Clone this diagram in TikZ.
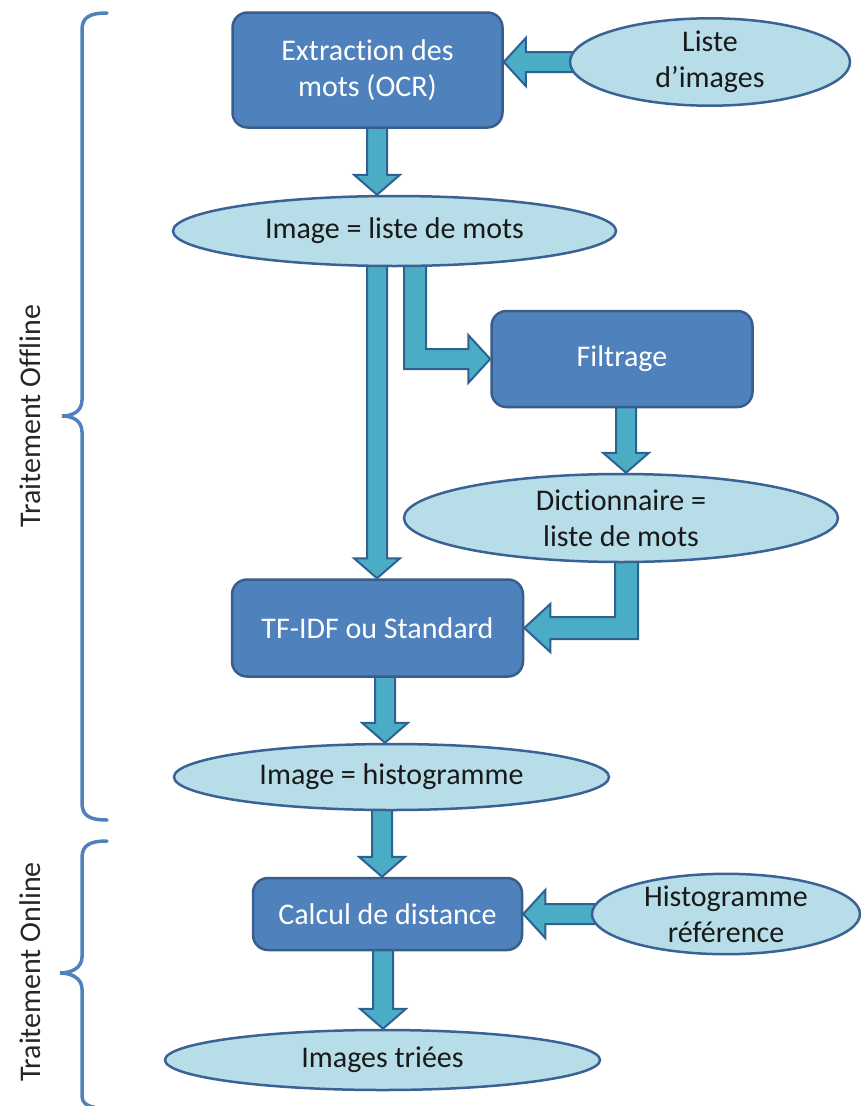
\documentclass[tikz,border=0pt]{standalone}
\usepackage{fontspec}
\setmainfont{Carlito}[Ligatures=NoCommon]
\usepackage{tikz}
\usetikzlibrary{shapes.geometric,calc,backgrounds}
\definecolor{boxfill}{HTML}{4F81BD}
\definecolor{boxline}{HTML}{385D8A}
\definecolor{ovalfill}{HTML}{B7DDE8}
\definecolor{ovalline}{HTML}{3A6295}
\definecolor{arrowfill}{HTML}{4BACC6}
\definecolor{arrowline}{HTML}{2E6190}
\definecolor{bracecol}{HTML}{4F81BD}

% block arrow pointing down: #1 = x of the shaft, #2 = where it starts, #3 = tip
\newcommand{\downblock}[3]{%
  \draw[blockarrow] let \p1=(#2), \p2=(#3) in
    (#1pt-10pt,\y1) -- (#1pt-10pt,\y2+20pt) -- (#1pt-23pt,\y2+20pt) -- (#1pt,\y2)
    -- (#1pt+23pt,\y2+20pt) -- (#1pt+10pt,\y2+20pt) -- (#1pt+10pt,\y1) -- cycle;}
% block arrow pointing left: #1 = y of the shaft, #2 = where it starts, #3 = tip
\newcommand{\leftblock}[3]{%
  \draw[blockarrow] let \p1=(#2), \p2=(#3) in
    (\x1,-#1pt+10pt) -- (\x2+22pt,-#1pt+10pt) -- (\x2+22pt,-#1pt+24pt) -- (\x2,-#1pt)
    -- (\x2+22pt,-#1pt-24pt) -- (\x2+22pt,-#1pt-10pt) -- (\x1,-#1pt-10pt) -- cycle;}

\begin{document}
\begin{tikzpicture}[
  x=1pt, y=-1pt,
  procbox/.style={draw=boxline, fill=boxfill, line width=2.5pt, rounded corners=15pt,
                  text=white, align=center, inner sep=0pt,
                  font=\fontsize{30}{36}\selectfont},
  oval/.style={ellipse, draw=ovalline, fill=ovalfill, line width=2.5pt, inner sep=0pt,
               align=center, text=black!90, font=\fontsize{30}{36}\selectfont},
  blockarrow/.style={draw=arrowline, fill=arrowfill, line width=2pt, line join=miter},
  brc/.style={draw=bracecol, line width=3.5pt, line cap=round},
  sidelabel/.style={rotate=90, text=black!85, font=\fontsize{30}{36}\selectfont},
]
\useasboundingbox (0,0) rectangle (861,1106);

% --- offline part
\node[procbox, minimum width=270, minimum height=115] (ocr) at (367.5,70) {Extraction des\\mots (OCR)};
\node[oval, minimum width=280, minimum height=78] (listimg) at (710,62) {Liste\\d’images};
\node[oval, minimum width=443, minimum height=70] (imgwords) at (394.5,231) {Image = liste de mots};
\node[procbox, minimum width=261, minimum height=96] (filt) at (622,359) {Filtrage};
\node[oval, minimum width=434, minimum height=88] (dict) at (621,518) {Dictionnaire =\\liste de mots};
\node[procbox, minimum width=291, minimum height=97] (tfidf) at (377.5,628) {TF-IDF ou Standard};
\node[oval, minimum width=435, minimum height=66] (hist) at (391.5,777) {Image = histogramme};

% --- online part
\node[procbox, minimum width=269, minimum height=72] (dist) at (387.5,914) {Calcul de distance};
\node[oval, minimum width=268, minimum height=76] (histref) at (726,914) {Histogramme\\référence};
\node[oval, minimum width=435, minimum height=60] (sorted) at (382.5,1060) {Images triées};

% --- block arrows, under the shapes
\begin{scope}[on background layer]
\leftblock{62}{listimg}{ocr.east}
\downblock{377}{ocr}{imgwords.north}
\downblock{377}{imgwords}{tfidf.north}
\draw[blockarrow] let \p1=(imgwords), \p2=(filt.west) in
  (404pt,\y1) -- (404pt,\y2-10pt) -- (\x2-22pt,\y2-10pt) -- (\x2-22pt,\y2-24pt) -- (\x2,\y2)
  -- (\x2-22pt,\y2+24pt) -- (\x2-22pt,\y2+10pt) -- (426pt,\y2+10pt) -- (426pt,\y1) -- cycle;
\downblock{626}{filt}{dict.north}
\draw[blockarrow] let \p1=(dict), \p2=(tfidf.east) in
  (638pt,\y1) -- (638pt,\y2-11pt) -- (\x2+26pt,\y2-11pt) -- (\x2+26pt,\y2-24pt) -- (\x2,\y2)
  -- (\x2+26pt,\y2+24pt) -- (\x2+26pt,\y2+11pt) -- (615pt,\y2+11pt) -- (615pt,\y1) -- cycle;
\downblock{385}{tfidf}{hist.north}
\downblock{382}{hist}{dist.north}
\leftblock{914}{histref}{dist.east}
\downblock{383}{dist}{sorted.north}
\end{scope}

% --- braces and their labels
\draw[brc] (107,13) .. controls (90,13) and (82,17) .. (82,30) -- (82,400)
  .. controls (82,411) and (73,416) .. (62,416) .. controls (73,416) and (82,421) .. (82,432)
  -- (82,803) .. controls (82,816) and (90,820) .. (107,820);
\draw[brc] (107,841) .. controls (90,841) and (82,845) .. (82,858) -- (82,957)
  .. controls (82,968) and (71,973) .. (60,973) .. controls (71,973) and (82,978) .. (82,989)
  -- (82,1096) .. controls (82,1102) and (86,1106) .. (94,1107);
\node[sidelabel] (offline) at (30,416) {Traitement Offline};
\node[sidelabel] (online) at (30,972) {Traitement Online};
\end{tikzpicture}
\end{document}
